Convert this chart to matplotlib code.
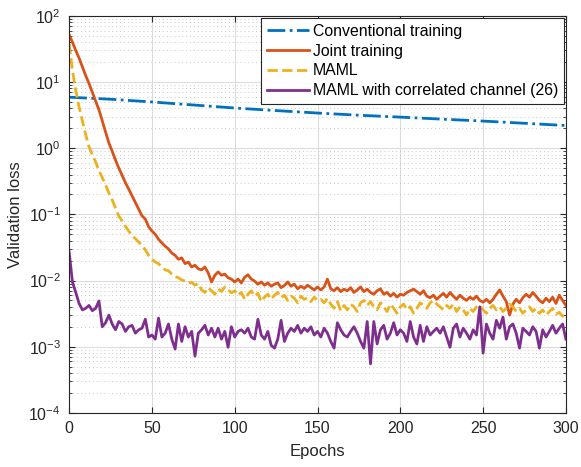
import matplotlib.pyplot as plt
import numpy as np
from matplotlib.ticker import LogLocator, NullFormatter

plt.rcParams['font.family'] = ['Liberation Sans', 'DejaVu Sans']

# epochs sampled every 2 for the noisy curves
epochs = np.arange(0, 301, 2)

# conventional training is smooth, a few points are enough
conv_epochs = [0, 25, 50, 75, 100, 125, 150, 175, 200, 225, 250, 275, 300]
conv_loss = [5.9, 5.5, 5.0, 4.5, 4.05, 3.7, 3.4, 3.15, 2.95, 2.75, 2.57, 2.38, 2.2]

joint_loss = [
    52, 40, 30, 23, 17, 12.5, 9.5, 7.0, 5.2, 3.8,
    2.6, 1.75, 1.2, 0.9, 0.66, 0.5, 0.39, 0.3, 0.24, 0.19,
    0.15, 0.12, 0.095, 0.085, 0.065, 0.056, 0.05, 0.042, 0.037, 0.033,
    0.03, 0.026, 0.024, 0.021, 0.022, 0.018, 0.019, 0.016, 0.017, 0.015,
    0.0145, 0.016, 0.013, 0.0095, 0.012, 0.0135, 0.012, 0.0125, 0.011, 0.0105,
    0.0095, 0.0105, 0.0092, 0.0112, 0.0122, 0.0105, 0.0098, 0.0088, 0.0095, 0.0085,
    0.0092, 0.0082, 0.0088, 0.0092, 0.0078, 0.0084, 0.0095, 0.0082, 0.0088, 0.0075,
    0.0082, 0.0076, 0.0085, 0.0078, 0.0072, 0.0080, 0.0072, 0.0080, 0.0105, 0.0075,
    0.0070, 0.0078, 0.0068, 0.0074, 0.0070, 0.0078, 0.0066, 0.0072, 0.0080, 0.0068,
    0.0074, 0.0066, 0.0062, 0.0070, 0.0075, 0.0062, 0.0066, 0.0058, 0.0064, 0.0056,
    0.0062, 0.0060, 0.0066, 0.0070, 0.0074, 0.0068, 0.0062, 0.0070, 0.0058, 0.0055,
    0.0060, 0.0052, 0.0058, 0.0064, 0.0056, 0.0066, 0.0058, 0.0052, 0.0060, 0.0054,
    0.0050, 0.0056, 0.0052, 0.0058, 0.0050, 0.0047, 0.0052, 0.0046, 0.0052, 0.0062,
    0.0072, 0.0058, 0.0048, 0.0030, 0.0044, 0.0052, 0.0046, 0.0055, 0.0062, 0.0056,
    0.0066, 0.0058, 0.0050, 0.0046, 0.0054, 0.0048, 0.0056, 0.0045, 0.0060, 0.0050,
    0.0042]

maml_loss = [
    38, 15, 7.5, 4.2, 2.6, 1.6, 1.05, 0.8, 0.62, 0.46,
    0.36, 0.28, 0.21, 0.165, 0.125, 0.094, 0.08, 0.066, 0.056, 0.048,
    0.043, 0.038, 0.034, 0.029, 0.024, 0.021, 0.019, 0.018, 0.016, 0.0145,
    0.014, 0.0125, 0.0115, 0.011, 0.0102, 0.0098, 0.0092, 0.0094, 0.0085, 0.0090,
    0.0072, 0.0066, 0.0078, 0.0070, 0.0062, 0.0075, 0.0068, 0.0080, 0.0072, 0.0065,
    0.0070, 0.0060, 0.0066, 0.0052, 0.0062, 0.0070, 0.0058, 0.0064, 0.0048, 0.0056,
    0.0062, 0.0052, 0.0060, 0.0066, 0.0055, 0.0060, 0.0050, 0.0058, 0.0054, 0.0046,
    0.0058, 0.0052, 0.0055, 0.0048, 0.0056, 0.0050, 0.0052, 0.0046, 0.0054, 0.0044,
    0.0038, 0.0048, 0.0035, 0.0042, 0.0036, 0.0044, 0.0040, 0.0034, 0.0046, 0.0050,
    0.0042, 0.0048, 0.0040, 0.0036, 0.0046, 0.0040, 0.0034, 0.0044, 0.0038, 0.0032,
    0.0040, 0.0044, 0.0036, 0.0040, 0.0032, 0.0038, 0.0046, 0.0042, 0.0038, 0.0046,
    0.0050, 0.0044, 0.0040, 0.0036, 0.0042, 0.0038, 0.0044, 0.0034, 0.0040, 0.0036,
    0.0030, 0.0038, 0.0034, 0.0040, 0.0042, 0.0036, 0.0032, 0.0038, 0.0042, 0.0036,
    0.0040, 0.0034, 0.0038, 0.0044, 0.0040, 0.0034, 0.0038, 0.0032, 0.0036, 0.0040,
    0.0034, 0.0038, 0.0032, 0.0036, 0.0030, 0.0034, 0.0038, 0.0031, 0.0033, 0.0029,
    0.0030]

corr_loss = [
    0.027, 0.0095, 0.0066, 0.0045, 0.0036, 0.0038, 0.0042, 0.0035, 0.0038, 0.0049,
    0.0020, 0.0023, 0.0030, 0.0022, 0.0018, 0.0024, 0.0022, 0.0017, 0.0020, 0.0021,
    0.0016, 0.0018, 0.0019, 0.0026, 0.0014, 0.0015, 0.0013, 0.0027, 0.0014, 0.0016,
    0.0022, 0.0013, 0.00092, 0.0022, 0.0012, 0.0020, 0.0014, 0.0017, 0.00072, 0.0016,
    0.0018, 0.0021, 0.0015, 0.0019, 0.0014, 0.0019, 0.0013, 0.0017, 0.00098, 0.0020,
    0.0014, 0.0017, 0.0018, 0.0016, 0.0019, 0.0014, 0.0013, 0.0026, 0.0015, 0.0013,
    0.0017, 0.00105, 0.00095, 0.0013, 0.0025, 0.0012, 0.0016, 0.0019, 0.0017, 0.0021,
    0.0016, 0.0019, 0.0017, 0.0020, 0.0015, 0.0017, 0.0014, 0.0019, 0.0016, 0.0012,
    0.00095, 0.0023, 0.0018, 0.0015, 0.0014, 0.0017, 0.0020, 0.0016, 0.0012, 0.00095,
    0.0024, 0.00055, 0.0024, 0.0011, 0.0018, 0.0021, 0.0013, 0.0016, 0.0023, 0.0015,
    0.0018, 0.0016, 0.0012, 0.0024, 0.0014, 0.0011, 0.0021, 0.0012, 0.0020, 0.0015,
    0.0017, 0.0019, 0.0016, 0.0020, 0.0014, 0.00098, 0.0019, 0.0022, 0.0014, 0.0019,
    0.0016, 0.0013, 0.0018, 0.0015, 0.0040, 0.00080, 0.0022, 0.0016, 0.0013, 0.0025,
    0.0019, 0.0028, 0.0013, 0.0020, 0.0022, 0.0016, 0.00095, 0.0019, 0.0017, 0.0015,
    0.0020, 0.0017, 0.00095, 0.0018, 0.0014, 0.0017, 0.0021, 0.0016, 0.0019, 0.0022,
    0.0013]

labels = ['Conventional training', 'Joint training', 'MAML',
          'MAML with correlated channel (26)']
colors = ['#0072BD', '#D95319', '#EDB120', '#7E2F8E']

fig = plt.figure(figsize=(5.81, 4.67), dpi=100)
ax = fig.add_axes([0.119, 0.116, 0.855, 0.850])

ax.semilogy(conv_epochs, conv_loss, '-.', color=colors[0], lw=2.0, label=labels[0])
ax.semilogy(epochs, joint_loss, '-', color=colors[1], lw=2.0, label=labels[1])
ax.semilogy(epochs, maml_loss, '--', color=colors[2], lw=2.0, label=labels[2])
ax.semilogy(epochs, corr_loss, '-', color=colors[3], lw=2.0, label=labels[3])

ax.set_xlim(0, 300)
ax.set_ylim(1e-4, 1e2)
ax.set_xticks([0, 50, 100, 150, 200, 250, 300])
ax.yaxis.set_major_locator(LogLocator(base=10, numticks=10))
ax.yaxis.set_minor_locator(LogLocator(base=10, subs=np.arange(2, 10), numticks=20))
ax.yaxis.set_minor_formatter(NullFormatter())

ax.grid(True, which='major', color='#dcdcdc', lw=0.8)
ax.grid(True, which='minor', axis='y', color='#c8c8c8', lw=0.7, linestyle=(0, (1, 3)))
ax.set_axisbelow(True)

ax.tick_params(which='both', direction='in', top=True, right=True, colors='#262626',
               labelsize=11.5)
ax.tick_params(which='major', length=4, pad=6)
ax.tick_params(which='minor', length=2)
for s in ax.spines.values():
    s.set_color('#262626')
    s.set_linewidth(0.8)

ax.set_xlabel('Epochs', fontsize=12, color='#262626', labelpad=6)
ax.set_ylabel('Validation loss', fontsize=12, color='#262626', labelpad=4)

leg = ax.legend(loc='upper right', fontsize=11.4, fancybox=False, framealpha=1,
                edgecolor='#262626', borderpad=0.35, labelspacing=0.3,
                handlelength=2.7, handletextpad=0.2, borderaxespad=0.15)
leg.get_frame().set_linewidth(0.8)

fig.savefig('out.png', dpi=100)
